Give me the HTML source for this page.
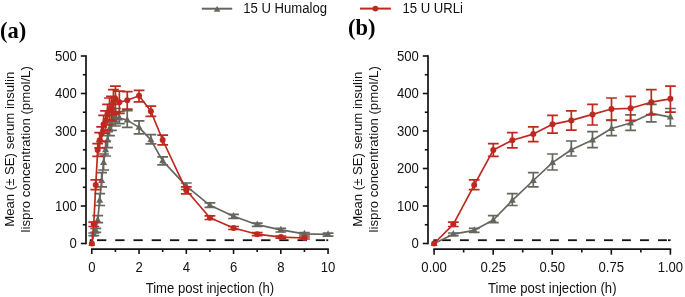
<!DOCTYPE html>
<html><head><meta charset="utf-8"><style>
html,body{margin:0;padding:0;background:#fff;}
svg{display:block;}
.t{font-family:"Liberation Sans",sans-serif;font-size:13.85px;fill:#111;}
.p{font-family:"Liberation Serif",serif;font-size:22.5px;font-weight:bold;fill:#000;}
</style></head><body>
<svg width="685" height="297" viewBox="0 0 685 297">
<rect width="685" height="297" fill="#fff"/>
<g opacity="0.995">
<path d="M201.8,8.7H232.2" stroke="#64665d" stroke-width="2"/><path d="M217.10,6.00 L220.40,11.80 L213.80,11.80Z" fill="#64665d"/><text transform="translate(243.20,12.80) scale(0.948,1)" class="t">15 U Humalog</text><path d="M360,8.6H390.9" stroke="#be281e" stroke-width="2"/><circle cx="375.40" cy="8.60" r="2.9" fill="#be281e"/><text transform="translate(402.40,12.80) scale(0.948,1)" class="t">15 U URLi</text>
<text x="0" y="37.7" class="p">(a)</text>
<text x="348.1" y="35" class="p">(b)</text>
<text transform="translate(14.40,149.30) rotate(-90) scale(0.97,1)" text-anchor="middle" class="t" style="font-size:13.6px">Mean (± SE) serum insulin</text><text transform="translate(30.30,149.30) rotate(-90) scale(0.97,1)" text-anchor="middle" class="t" style="font-size:13.6px">lispro concentration (pmol/L)</text>
<text transform="translate(361.80,149.30) rotate(-90) scale(0.97,1)" text-anchor="middle" class="t" style="font-size:13.6px">Mean (± SE) serum insulin</text><text transform="translate(377.90,149.30) rotate(-90) scale(0.97,1)" text-anchor="middle" class="t" style="font-size:13.6px">lispro concentration (pmol/L)</text>
<path d="M86,55.2V244.3" stroke="#111" stroke-width="1.7" fill="none"/>
<path d="M80.80,243.50H86" stroke="#111" stroke-width="1.6"/>
<text transform="translate(76.80,248.35) scale(0.948,1)" text-anchor="end" class="t">0</text>
<path d="M82.80,224.75H86" stroke="#111" stroke-width="1.6"/>
<path d="M80.80,206.00H86" stroke="#111" stroke-width="1.6"/>
<text transform="translate(76.80,210.85) scale(0.948,1)" text-anchor="end" class="t">100</text>
<path d="M82.80,187.25H86" stroke="#111" stroke-width="1.6"/>
<path d="M80.80,168.50H86" stroke="#111" stroke-width="1.6"/>
<text transform="translate(76.80,173.35) scale(0.948,1)" text-anchor="end" class="t">200</text>
<path d="M82.80,149.75H86" stroke="#111" stroke-width="1.6"/>
<path d="M80.80,131.00H86" stroke="#111" stroke-width="1.6"/>
<text transform="translate(76.80,135.85) scale(0.948,1)" text-anchor="end" class="t">300</text>
<path d="M82.80,112.25H86" stroke="#111" stroke-width="1.6"/>
<path d="M80.80,93.50H86" stroke="#111" stroke-width="1.6"/>
<text transform="translate(76.80,98.35) scale(0.948,1)" text-anchor="end" class="t">400</text>
<path d="M82.80,74.75H86" stroke="#111" stroke-width="1.6"/>
<path d="M80.80,56.00H86" stroke="#111" stroke-width="1.6"/>
<text transform="translate(76.80,60.85) scale(0.948,1)" text-anchor="end" class="t">500</text>
<path d="M91.00,249.1H328.85" stroke="#111" stroke-width="1.7" fill="none"/>
<path d="M91.80,249.1V253.9" stroke="#111" stroke-width="1.6"/>
<text transform="translate(91.80,272.00) scale(0.948,1)" text-anchor="middle" class="t">0</text>
<path d="M139.05,249.1V253.9" stroke="#111" stroke-width="1.6"/>
<text transform="translate(139.05,272.00) scale(0.948,1)" text-anchor="middle" class="t">2</text>
<path d="M186.30,249.1V253.9" stroke="#111" stroke-width="1.6"/>
<text transform="translate(186.30,272.00) scale(0.948,1)" text-anchor="middle" class="t">4</text>
<path d="M233.55,249.1V253.9" stroke="#111" stroke-width="1.6"/>
<text transform="translate(233.55,272.00) scale(0.948,1)" text-anchor="middle" class="t">6</text>
<path d="M280.80,249.1V253.9" stroke="#111" stroke-width="1.6"/>
<text transform="translate(280.80,272.00) scale(0.948,1)" text-anchor="middle" class="t">8</text>
<path d="M328.05,249.1V253.9" stroke="#111" stroke-width="1.6"/>
<text transform="translate(328.05,272.00) scale(0.948,1)" text-anchor="middle" class="t">10</text>
<path d="M115.42,249.1V252.0" stroke="#111" stroke-width="1.6"/>
<path d="M162.68,249.1V252.0" stroke="#111" stroke-width="1.6"/>
<path d="M209.93,249.1V252.0" stroke="#111" stroke-width="1.6"/>
<path d="M257.18,249.1V252.0" stroke="#111" stroke-width="1.6"/>
<path d="M304.43,249.1V252.0" stroke="#111" stroke-width="1.6"/>
<path d="M89.80,240.2H92.60" stroke="#111" stroke-width="1.8"/>
<path d="M97.00,240.2H106.30" stroke="#111" stroke-width="1.8"/>
<path d="M115.23,240.2H124.53" stroke="#111" stroke-width="1.8"/>
<path d="M133.46,240.2H142.76" stroke="#111" stroke-width="1.8"/>
<path d="M151.69,240.2H160.99" stroke="#111" stroke-width="1.8"/>
<path d="M169.92,240.2H179.22" stroke="#111" stroke-width="1.8"/>
<path d="M188.15,240.2H197.45" stroke="#111" stroke-width="1.8"/>
<path d="M206.38,240.2H215.68" stroke="#111" stroke-width="1.8"/>
<path d="M224.61,240.2H233.91" stroke="#111" stroke-width="1.8"/>
<path d="M242.84,240.2H252.14" stroke="#111" stroke-width="1.8"/>
<path d="M261.07,240.2H270.37" stroke="#111" stroke-width="1.8"/>
<path d="M279.30,240.2H288.60" stroke="#111" stroke-width="1.8"/>
<path d="M297.53,240.2H306.83" stroke="#111" stroke-width="1.8"/>
<path d="M315.76,240.2H325.06" stroke="#111" stroke-width="1.8"/>
<path d="M326.30,240.2H328.20" stroke="#111" stroke-width="1.8"/>

<path d="M93.77,233.00V235.70M88.37,233.00H99.17M88.37,235.70H99.17" stroke="#64665d" stroke-width="1.7" fill="none"/>
<path d="M95.74,228.30V232.40M90.34,228.30H101.14M90.34,232.40H101.14" stroke="#64665d" stroke-width="1.7" fill="none"/>
<path d="M97.71,215.70V222.70M92.31,215.70H103.11M92.31,222.70H103.11" stroke="#64665d" stroke-width="1.7" fill="none"/>
<path d="M99.67,193.70V205.50M94.27,193.70H105.08M94.27,205.50H105.08" stroke="#64665d" stroke-width="1.7" fill="none"/>
<path d="M101.64,172.60V186.90M96.24,172.60H107.04M96.24,186.90H107.04" stroke="#64665d" stroke-width="1.7" fill="none"/>
<path d="M103.61,154.00V170.00M98.21,154.00H109.01M98.21,170.00H109.01" stroke="#64665d" stroke-width="1.7" fill="none"/>
<path d="M105.58,141.00V156.00M100.18,141.00H110.98M100.18,156.00H110.98" stroke="#64665d" stroke-width="1.7" fill="none"/>
<path d="M107.55,131.70V147.70M102.15,131.70H112.95M102.15,147.70H112.95" stroke="#64665d" stroke-width="1.7" fill="none"/>
<path d="M109.52,120.40V135.60M104.12,120.40H114.92M104.12,135.60H114.92" stroke="#64665d" stroke-width="1.7" fill="none"/>
<path d="M111.49,114.80V130.40M106.09,114.80H116.89M106.09,130.40H116.89" stroke="#64665d" stroke-width="1.7" fill="none"/>
<path d="M113.46,104.40V121.90M108.06,104.40H118.86M108.06,121.90H118.86" stroke="#64665d" stroke-width="1.7" fill="none"/>
<path d="M115.42,108.50V126.00M110.02,108.50H120.83M110.02,126.00H120.83" stroke="#64665d" stroke-width="1.7" fill="none"/>
<path d="M119.36,111.60V123.70M113.96,111.60H124.76M113.96,123.70H124.76" stroke="#64665d" stroke-width="1.7" fill="none"/>
<path d="M127.24,110.70V127.30M121.84,110.70H132.64M121.84,127.30H132.64" stroke="#64665d" stroke-width="1.7" fill="none"/>
<path d="M139.05,120.90V133.90M133.65,120.90H144.45M133.65,133.90H144.45" stroke="#64665d" stroke-width="1.7" fill="none"/>
<path d="M150.86,134.70V143.90M145.46,134.70H156.26M145.46,143.90H156.26" stroke="#64665d" stroke-width="1.7" fill="none"/>
<path d="M162.68,156.80V164.80M157.28,156.80H168.08M157.28,164.80H168.08" stroke="#64665d" stroke-width="1.7" fill="none"/>
<path d="M186.30,183.00V189.50M180.90,183.00H191.70M180.90,189.50H191.70" stroke="#64665d" stroke-width="1.7" fill="none"/>
<path d="M209.93,202.90V207.40M204.53,202.90H215.33M204.53,207.40H215.33" stroke="#64665d" stroke-width="1.7" fill="none"/>
<path d="M233.55,214.40V218.50M228.15,214.40H238.95M228.15,218.50H238.95" stroke="#64665d" stroke-width="1.7" fill="none"/>
<path d="M257.18,223.20V226.40M251.78,223.20H262.57M251.78,226.40H262.57" stroke="#64665d" stroke-width="1.7" fill="none"/>
<path d="M280.80,228.40V232.00M275.40,228.40H286.20M275.40,232.00H286.20" stroke="#64665d" stroke-width="1.7" fill="none"/>
<path d="M304.43,232.70V235.00M299.03,232.70H309.82M299.03,235.00H309.82" stroke="#64665d" stroke-width="1.7" fill="none"/>
<path d="M328.05,233.10V236.10M322.65,233.10H333.45M322.65,236.10H333.45" stroke="#64665d" stroke-width="1.7" fill="none"/>
<path d="M91.80,243.50 L93.77,234.20 L95.74,230.30 L97.71,220.00 L99.67,200.40 L101.64,180.50 L103.61,162.60 L105.58,149.80 L107.55,140.00 L109.52,128.50 L111.49,123.00 L113.46,113.30 L115.42,117.20 L119.36,118.00 L127.24,120.10 L139.05,127.40 L150.86,139.80 L162.68,160.80 L186.30,186.20 L209.93,205.30 L233.55,216.20 L257.18,224.70 L280.80,229.80 L304.43,233.80 L328.05,234.40" stroke="#64665d" stroke-width="1.7" fill="none" stroke-linejoin="round"/>
<path d="M91.80,239.40 L95.30,245.90 L88.30,245.90Z" fill="#64665d"/>
<path d="M93.77,230.10 L97.27,236.60 L90.27,236.60Z" fill="#64665d"/>
<path d="M95.74,226.20 L99.24,232.70 L92.24,232.70Z" fill="#64665d"/>
<path d="M97.71,215.90 L101.21,222.40 L94.21,222.40Z" fill="#64665d"/>
<path d="M99.67,196.30 L103.17,202.80 L96.17,202.80Z" fill="#64665d"/>
<path d="M101.64,176.40 L105.14,182.90 L98.14,182.90Z" fill="#64665d"/>
<path d="M103.61,158.50 L107.11,165.00 L100.11,165.00Z" fill="#64665d"/>
<path d="M105.58,145.70 L109.08,152.20 L102.08,152.20Z" fill="#64665d"/>
<path d="M107.55,135.90 L111.05,142.40 L104.05,142.40Z" fill="#64665d"/>
<path d="M109.52,124.40 L113.02,130.90 L106.02,130.90Z" fill="#64665d"/>
<path d="M111.49,118.90 L114.99,125.40 L107.99,125.40Z" fill="#64665d"/>
<path d="M113.46,109.20 L116.96,115.70 L109.96,115.70Z" fill="#64665d"/>
<path d="M115.42,113.10 L118.92,119.60 L111.92,119.60Z" fill="#64665d"/>
<path d="M119.36,113.90 L122.86,120.40 L115.86,120.40Z" fill="#64665d"/>
<path d="M127.24,116.00 L130.74,122.50 L123.74,122.50Z" fill="#64665d"/>
<path d="M139.05,123.30 L142.55,129.80 L135.55,129.80Z" fill="#64665d"/>
<path d="M150.86,135.70 L154.36,142.20 L147.36,142.20Z" fill="#64665d"/>
<path d="M162.68,156.70 L166.18,163.20 L159.18,163.20Z" fill="#64665d"/>
<path d="M186.30,182.10 L189.80,188.60 L182.80,188.60Z" fill="#64665d"/>
<path d="M209.93,201.20 L213.43,207.70 L206.43,207.70Z" fill="#64665d"/>
<path d="M233.55,212.10 L237.05,218.60 L230.05,218.60Z" fill="#64665d"/>
<path d="M257.18,220.60 L260.68,227.10 L253.68,227.10Z" fill="#64665d"/>
<path d="M280.80,225.70 L284.30,232.20 L277.30,232.20Z" fill="#64665d"/>
<path d="M304.43,229.70 L307.93,236.20 L300.93,236.20Z" fill="#64665d"/>
<path d="M328.05,230.30 L331.55,236.80 L324.55,236.80Z" fill="#64665d"/>

<path d="M93.77,222.10V226.50M88.37,222.10H99.17M88.37,226.50H99.17" stroke="#be281e" stroke-width="1.7" fill="none"/>
<path d="M95.74,179.90V189.70M90.34,179.90H101.14M90.34,189.70H101.14" stroke="#be281e" stroke-width="1.7" fill="none"/>
<path d="M97.71,143.70V156.30M92.31,143.70H103.11M92.31,156.30H103.11" stroke="#be281e" stroke-width="1.7" fill="none"/>
<path d="M99.67,132.70V147.90M94.27,132.70H105.08M94.27,147.90H105.08" stroke="#be281e" stroke-width="1.7" fill="none"/>
<path d="M101.64,126.80V141.60M96.24,126.80H107.04M96.24,141.60H107.04" stroke="#be281e" stroke-width="1.7" fill="none"/>
<path d="M103.61,115.40V133.20M98.21,115.40H109.01M98.21,133.20H109.01" stroke="#be281e" stroke-width="1.7" fill="none"/>
<path d="M105.58,110.80V130.20M100.18,110.80H110.98M100.18,130.20H110.98" stroke="#be281e" stroke-width="1.7" fill="none"/>
<path d="M107.55,104.30V125.00M102.15,104.30H112.95M102.15,125.00H112.95" stroke="#be281e" stroke-width="1.7" fill="none"/>
<path d="M109.52,98.00V120.00M104.12,98.00H114.92M104.12,120.00H114.92" stroke="#be281e" stroke-width="1.7" fill="none"/>
<path d="M111.49,96.30V120.40M106.09,96.30H116.89M106.09,120.40H116.89" stroke="#be281e" stroke-width="1.7" fill="none"/>
<path d="M113.46,89.70V114.60M108.06,89.70H118.86M108.06,114.60H118.86" stroke="#be281e" stroke-width="1.7" fill="none"/>
<path d="M115.42,86.10V112.20M110.02,86.10H120.83M110.02,112.20H120.83" stroke="#be281e" stroke-width="1.7" fill="none"/>
<path d="M119.36,91.10V113.50M113.96,91.10H124.76M113.96,113.50H124.76" stroke="#be281e" stroke-width="1.7" fill="none"/>
<path d="M127.24,91.60V109.10M121.84,91.60H132.64M121.84,109.10H132.64" stroke="#be281e" stroke-width="1.7" fill="none"/>
<path d="M139.05,90.30V101.90M133.65,90.30H144.45M133.65,101.90H144.45" stroke="#be281e" stroke-width="1.7" fill="none"/>
<path d="M150.86,106.20V116.30M145.46,106.20H156.26M145.46,116.30H156.26" stroke="#be281e" stroke-width="1.7" fill="none"/>
<path d="M162.68,135.20V144.80M157.28,135.20H168.08M157.28,144.80H168.08" stroke="#be281e" stroke-width="1.7" fill="none"/>
<path d="M186.30,186.80V193.90M180.90,186.80H191.70M180.90,193.90H191.70" stroke="#be281e" stroke-width="1.7" fill="none"/>
<path d="M209.93,215.90V219.50M204.53,215.90H215.33M204.53,219.50H215.33" stroke="#be281e" stroke-width="1.7" fill="none"/>
<path d="M233.55,226.50V229.50M228.15,226.50H238.95M228.15,229.50H238.95" stroke="#be281e" stroke-width="1.7" fill="none"/>
<path d="M257.18,232.70V235.70M251.78,232.70H262.57M251.78,235.70H262.57" stroke="#be281e" stroke-width="1.7" fill="none"/>
<path d="M280.80,236.00V238.20M275.40,236.00H286.20M275.40,238.20H286.20" stroke="#be281e" stroke-width="1.7" fill="none"/>
<path d="M304.43,237.00V239.00M299.03,237.00H309.82M299.03,239.00H309.82" stroke="#be281e" stroke-width="1.7" fill="none"/>
<path d="M91.80,243.50 L93.77,224.30 L95.74,185.10 L97.71,150.10 L99.67,140.30 L101.64,134.10 L103.61,124.30 L105.58,120.40 L107.55,114.40 L109.52,109.00 L111.49,108.30 L113.46,102.20 L115.42,98.80 L119.36,102.30 L127.24,100.20 L139.05,95.80 L150.86,111.20 L162.68,140.00 L186.30,190.30 L209.93,217.70 L233.55,228.00 L257.18,234.20 L280.80,237.10 L304.43,238.00" stroke="#be281e" stroke-width="1.7" fill="none" stroke-linejoin="round"/>
<circle cx="91.80" cy="243.50" r="3.0" fill="#be281e"/>
<circle cx="93.77" cy="224.30" r="3.0" fill="#be281e"/>
<circle cx="95.74" cy="185.10" r="3.0" fill="#be281e"/>
<circle cx="97.71" cy="150.10" r="3.0" fill="#be281e"/>
<circle cx="99.67" cy="140.30" r="3.0" fill="#be281e"/>
<circle cx="101.64" cy="134.10" r="3.0" fill="#be281e"/>
<circle cx="103.61" cy="124.30" r="3.0" fill="#be281e"/>
<circle cx="105.58" cy="120.40" r="3.0" fill="#be281e"/>
<circle cx="107.55" cy="114.40" r="3.0" fill="#be281e"/>
<circle cx="109.52" cy="109.00" r="3.0" fill="#be281e"/>
<circle cx="111.49" cy="108.30" r="3.0" fill="#be281e"/>
<circle cx="113.46" cy="102.20" r="3.0" fill="#be281e"/>
<circle cx="115.42" cy="98.80" r="3.0" fill="#be281e"/>
<circle cx="119.36" cy="102.30" r="3.0" fill="#be281e"/>
<circle cx="127.24" cy="100.20" r="3.0" fill="#be281e"/>
<circle cx="139.05" cy="95.80" r="3.0" fill="#be281e"/>
<circle cx="150.86" cy="111.20" r="3.0" fill="#be281e"/>
<circle cx="162.68" cy="140.00" r="3.0" fill="#be281e"/>
<circle cx="186.30" cy="190.30" r="3.0" fill="#be281e"/>
<circle cx="209.93" cy="217.70" r="3.0" fill="#be281e"/>
<circle cx="233.55" cy="228.00" r="3.0" fill="#be281e"/>
<circle cx="257.18" cy="234.20" r="3.0" fill="#be281e"/>
<circle cx="280.80" cy="237.10" r="3.0" fill="#be281e"/>
<circle cx="304.43" cy="238.00" r="3.0" fill="#be281e"/>
<text transform="translate(209.93,292.50) scale(0.948,1)" text-anchor="middle" class="t">Time post injection (h)</text>
<path d="M428,55.2V244.3" stroke="#111" stroke-width="1.7" fill="none"/>
<path d="M422.80,243.50H428" stroke="#111" stroke-width="1.6"/>
<text transform="translate(418.80,248.35) scale(0.948,1)" text-anchor="end" class="t">0</text>
<path d="M424.80,224.75H428" stroke="#111" stroke-width="1.6"/>
<path d="M422.80,206.00H428" stroke="#111" stroke-width="1.6"/>
<text transform="translate(418.80,210.85) scale(0.948,1)" text-anchor="end" class="t">100</text>
<path d="M424.80,187.25H428" stroke="#111" stroke-width="1.6"/>
<path d="M422.80,168.50H428" stroke="#111" stroke-width="1.6"/>
<text transform="translate(418.80,173.35) scale(0.948,1)" text-anchor="end" class="t">200</text>
<path d="M424.80,149.75H428" stroke="#111" stroke-width="1.6"/>
<path d="M422.80,131.00H428" stroke="#111" stroke-width="1.6"/>
<text transform="translate(418.80,135.85) scale(0.948,1)" text-anchor="end" class="t">300</text>
<path d="M424.80,112.25H428" stroke="#111" stroke-width="1.6"/>
<path d="M422.80,93.50H428" stroke="#111" stroke-width="1.6"/>
<text transform="translate(418.80,98.35) scale(0.948,1)" text-anchor="end" class="t">400</text>
<path d="M424.80,74.75H428" stroke="#111" stroke-width="1.6"/>
<path d="M422.80,56.00H428" stroke="#111" stroke-width="1.6"/>
<text transform="translate(418.80,60.85) scale(0.948,1)" text-anchor="end" class="t">500</text>
<path d="M433.30,249.1H671.20" stroke="#111" stroke-width="1.7" fill="none"/>
<path d="M434.10,249.1V254.7" stroke="#111" stroke-width="1.6"/>
<text transform="translate(434.10,272.00) scale(0.948,1)" text-anchor="middle" class="t">0.00</text>
<path d="M493.18,249.1V254.7" stroke="#111" stroke-width="1.6"/>
<text transform="translate(493.18,272.00) scale(0.948,1)" text-anchor="middle" class="t">0.25</text>
<path d="M552.25,249.1V254.7" stroke="#111" stroke-width="1.6"/>
<text transform="translate(552.25,272.00) scale(0.948,1)" text-anchor="middle" class="t">0.50</text>
<path d="M611.33,249.1V254.7" stroke="#111" stroke-width="1.6"/>
<text transform="translate(611.33,272.00) scale(0.948,1)" text-anchor="middle" class="t">0.75</text>
<path d="M670.40,249.1V254.7" stroke="#111" stroke-width="1.6"/>
<text transform="translate(670.40,272.00) scale(0.948,1)" text-anchor="middle" class="t">1.00</text>
<path d="M463.64,249.1V252.5" stroke="#111" stroke-width="1.6"/>
<path d="M522.71,249.1V252.5" stroke="#111" stroke-width="1.6"/>
<path d="M581.79,249.1V252.5" stroke="#111" stroke-width="1.6"/>
<path d="M640.86,249.1V252.5" stroke="#111" stroke-width="1.6"/>
<path d="M433.40,240.2H437.20" stroke="#111" stroke-width="1.8"/>
<path d="M441.90,240.2H450.80" stroke="#111" stroke-width="1.8"/>
<path d="M459.91,240.2H468.81" stroke="#111" stroke-width="1.8"/>
<path d="M477.92,240.2H486.82" stroke="#111" stroke-width="1.8"/>
<path d="M495.93,240.2H504.83" stroke="#111" stroke-width="1.8"/>
<path d="M513.94,240.2H522.84" stroke="#111" stroke-width="1.8"/>
<path d="M531.95,240.2H540.85" stroke="#111" stroke-width="1.8"/>
<path d="M549.96,240.2H558.86" stroke="#111" stroke-width="1.8"/>
<path d="M567.97,240.2H576.87" stroke="#111" stroke-width="1.8"/>
<path d="M585.98,240.2H594.88" stroke="#111" stroke-width="1.8"/>
<path d="M603.99,240.2H612.89" stroke="#111" stroke-width="1.8"/>
<path d="M622.00,240.2H630.90" stroke="#111" stroke-width="1.8"/>
<path d="M640.01,240.2H648.91" stroke="#111" stroke-width="1.8"/>
<path d="M658.02,240.2H666.92" stroke="#111" stroke-width="1.8"/>
<path d="M668.00,240.2H670.60" stroke="#111" stroke-width="1.8"/>

<path d="M453.30,233.00V235.70M447.90,233.00H458.70M447.90,235.70H458.70" stroke="#64665d" stroke-width="1.7" fill="none"/>
<path d="M474.20,228.30V232.40M468.80,228.30H479.60M468.80,232.40H479.60" stroke="#64665d" stroke-width="1.7" fill="none"/>
<path d="M493.30,215.70V222.70M487.90,215.70H498.70M487.90,222.70H498.70" stroke="#64665d" stroke-width="1.7" fill="none"/>
<path d="M512.30,193.70V205.50M506.90,193.70H517.70M506.90,205.50H517.70" stroke="#64665d" stroke-width="1.7" fill="none"/>
<path d="M533.30,172.60V186.90M527.90,172.60H538.70M527.90,186.90H538.70" stroke="#64665d" stroke-width="1.7" fill="none"/>
<path d="M552.50,154.00V170.00M547.10,154.00H557.90M547.10,170.00H557.90" stroke="#64665d" stroke-width="1.7" fill="none"/>
<path d="M571.30,141.00V156.00M565.90,141.00H576.70M565.90,156.00H576.70" stroke="#64665d" stroke-width="1.7" fill="none"/>
<path d="M592.50,131.70V147.70M587.10,131.70H597.90M587.10,147.70H597.90" stroke="#64665d" stroke-width="1.7" fill="none"/>
<path d="M611.50,120.40V135.60M606.10,120.40H616.90M606.10,135.60H616.90" stroke="#64665d" stroke-width="1.7" fill="none"/>
<path d="M630.60,114.80V130.40M625.20,114.80H636.00M625.20,130.40H636.00" stroke="#64665d" stroke-width="1.7" fill="none"/>
<path d="M651.30,104.40V121.90M645.90,104.40H656.70M645.90,121.90H656.70" stroke="#64665d" stroke-width="1.7" fill="none"/>
<path d="M670.40,108.50V126.00M665.00,108.50H675.80M665.00,126.00H675.80" stroke="#64665d" stroke-width="1.7" fill="none"/>
<path d="M434.10,243.50 L453.30,234.20 L474.20,230.30 L493.30,220.00 L512.30,200.40 L533.30,180.50 L552.50,162.60 L571.30,149.80 L592.50,140.00 L611.50,128.50 L630.60,123.00 L651.30,113.30 L670.40,117.20" stroke="#64665d" stroke-width="1.7" fill="none" stroke-linejoin="round"/>
<path d="M434.10,239.40 L437.60,245.90 L430.60,245.90Z" fill="#64665d"/>
<path d="M453.30,230.10 L456.80,236.60 L449.80,236.60Z" fill="#64665d"/>
<path d="M474.20,226.20 L477.70,232.70 L470.70,232.70Z" fill="#64665d"/>
<path d="M493.30,215.90 L496.80,222.40 L489.80,222.40Z" fill="#64665d"/>
<path d="M512.30,196.30 L515.80,202.80 L508.80,202.80Z" fill="#64665d"/>
<path d="M533.30,176.40 L536.80,182.90 L529.80,182.90Z" fill="#64665d"/>
<path d="M552.50,158.50 L556.00,165.00 L549.00,165.00Z" fill="#64665d"/>
<path d="M571.30,145.70 L574.80,152.20 L567.80,152.20Z" fill="#64665d"/>
<path d="M592.50,135.90 L596.00,142.40 L589.00,142.40Z" fill="#64665d"/>
<path d="M611.50,124.40 L615.00,130.90 L608.00,130.90Z" fill="#64665d"/>
<path d="M630.60,118.90 L634.10,125.40 L627.10,125.40Z" fill="#64665d"/>
<path d="M651.30,109.20 L654.80,115.70 L647.80,115.70Z" fill="#64665d"/>
<path d="M670.40,113.10 L673.90,119.60 L666.90,119.60Z" fill="#64665d"/>

<path d="M453.30,222.10V226.50M447.90,222.10H458.70M447.90,226.50H458.70" stroke="#be281e" stroke-width="1.7" fill="none"/>
<path d="M474.20,179.90V189.70M468.80,179.90H479.60M468.80,189.70H479.60" stroke="#be281e" stroke-width="1.7" fill="none"/>
<path d="M493.30,143.70V156.30M487.90,143.70H498.70M487.90,156.30H498.70" stroke="#be281e" stroke-width="1.7" fill="none"/>
<path d="M512.30,132.70V147.90M506.90,132.70H517.70M506.90,147.90H517.70" stroke="#be281e" stroke-width="1.7" fill="none"/>
<path d="M533.30,126.80V141.60M527.90,126.80H538.70M527.90,141.60H538.70" stroke="#be281e" stroke-width="1.7" fill="none"/>
<path d="M552.50,115.40V133.20M547.10,115.40H557.90M547.10,133.20H557.90" stroke="#be281e" stroke-width="1.7" fill="none"/>
<path d="M571.30,110.80V130.20M565.90,110.80H576.70M565.90,130.20H576.70" stroke="#be281e" stroke-width="1.7" fill="none"/>
<path d="M592.50,104.30V125.00M587.10,104.30H597.90M587.10,125.00H597.90" stroke="#be281e" stroke-width="1.7" fill="none"/>
<path d="M611.50,98.00V120.00M606.10,98.00H616.90M606.10,120.00H616.90" stroke="#be281e" stroke-width="1.7" fill="none"/>
<path d="M630.60,96.30V120.40M625.20,96.30H636.00M625.20,120.40H636.00" stroke="#be281e" stroke-width="1.7" fill="none"/>
<path d="M651.30,89.70V114.60M645.90,89.70H656.70M645.90,114.60H656.70" stroke="#be281e" stroke-width="1.7" fill="none"/>
<path d="M670.40,86.10V112.20M665.00,86.10H675.80M665.00,112.20H675.80" stroke="#be281e" stroke-width="1.7" fill="none"/>
<path d="M434.10,243.50 L453.30,224.30 L474.20,185.10 L493.30,150.10 L512.30,140.30 L533.30,134.10 L552.50,124.30 L571.30,120.40 L592.50,114.40 L611.50,109.00 L630.60,108.30 L651.30,102.20 L670.40,98.80" stroke="#be281e" stroke-width="1.7" fill="none" stroke-linejoin="round"/>
<circle cx="434.10" cy="243.50" r="3.0" fill="#be281e"/>
<circle cx="453.30" cy="224.30" r="3.0" fill="#be281e"/>
<circle cx="474.20" cy="185.10" r="3.0" fill="#be281e"/>
<circle cx="493.30" cy="150.10" r="3.0" fill="#be281e"/>
<circle cx="512.30" cy="140.30" r="3.0" fill="#be281e"/>
<circle cx="533.30" cy="134.10" r="3.0" fill="#be281e"/>
<circle cx="552.50" cy="124.30" r="3.0" fill="#be281e"/>
<circle cx="571.30" cy="120.40" r="3.0" fill="#be281e"/>
<circle cx="592.50" cy="114.40" r="3.0" fill="#be281e"/>
<circle cx="611.50" cy="109.00" r="3.0" fill="#be281e"/>
<circle cx="630.60" cy="108.30" r="3.0" fill="#be281e"/>
<circle cx="651.30" cy="102.20" r="3.0" fill="#be281e"/>
<circle cx="670.40" cy="98.80" r="3.0" fill="#be281e"/>
<text transform="translate(552.25,292.50) scale(0.948,1)" text-anchor="middle" class="t">Time post injection (h)</text>
</g>
</svg>
</body></html>
